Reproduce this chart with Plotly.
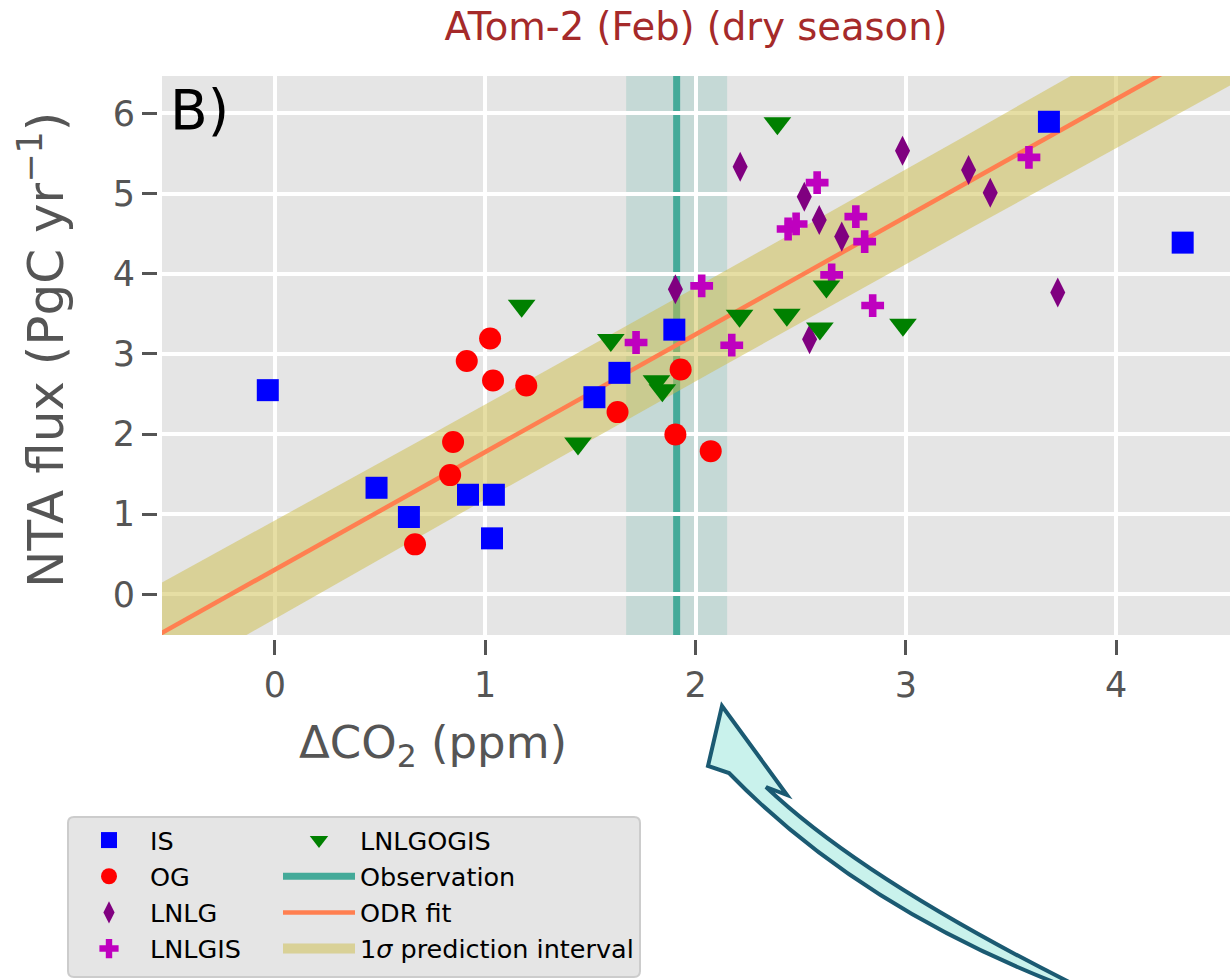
import numpy as np
import plotly.graph_objects as go

# ---------------- data ----------------
IS_X = [-0.034, 0.483, 0.637, 0.918, 1.041, 1.032, 1.519, 1.638, 1.899, 3.680, 4.316]
IS_Y = [2.547, 1.329, 0.964, 1.242, 1.242, 0.698, 2.459, 2.763, 3.302, 5.896, 4.388]

OG_X = [0.666, 0.833, 0.847, 0.912, 1.023, 1.037, 1.195, 1.629, 1.904, 1.929, 2.072]
OG_Y = [0.623, 1.487, 1.899, 2.912, 3.191, 2.667, 2.605, 2.273, 1.994, 2.804, 1.786]

LNLG_X = [1.904, 2.212, 2.517, 2.588, 2.695, 2.542, 2.984, 3.298, 3.401, 3.722]
LNLG_Y = [3.806, 5.335, 4.961, 4.671, 4.463, 3.183, 5.535, 5.294, 5.011, 3.765]

LNLGIS_X = [1.717, 2.029, 2.172, 2.578, 2.440, 2.478, 2.762, 2.804, 2.647, 2.842, 3.585]
LNLGIS_Y = [3.142, 3.848, 3.108, 5.136, 4.558, 4.621, 4.712, 4.400, 3.985, 3.603, 5.452]

LNLGOGIS_X = [1.173, 1.441, 1.597, 1.814, 1.842, 2.209, 2.389, 2.434, 2.591, 2.622, 2.986]
LNLGOGIS_Y = [3.600, 1.882, 3.172, 2.659, 2.547, 3.474, 5.877, 3.487, 3.316, 3.840, 3.362]

OBS_VALUE = 1.91
OBS_SIGMA = 0.24

FIT_SLOPE = 1.4675
FIT_INTERCEPT = 0.308
PRED_SIGMA = 0.58

X_RANGE = [-0.537, 4.541]
Y_RANGE = [-0.508, 6.467]
X_TICKS = [0, 1, 2, 3, 4]
Y_TICKS = [0, 1, 2, 3, 4, 5, 6]

TITLE = "ATom-2 (Feb) (dry season)"
PANEL = "B)"
X_TITLE = "ΔCO<sub>2</sub> (ppm)"
Y_TITLE = "NTA flux (PgC yr<sup>−1</sup>)"

# ---------------- layout geometry ----------------
FIG_W, FIG_H = 1230, 980
M_L, M_R, M_T, M_B = 162, 0, 76, 345
PW = FIG_W - M_L - M_R
PH = FIG_H - M_T - M_B
BOTTOM = FIG_H - M_B


def px(x):
    return (x - M_L) / PW


def py(y):
    return (BOTTOM - y) / PH


def pt(x, y):
    return f"{px(x):.5f},{py(y):.5f}"


FONT = "DejaVu Sans"
GREY = "#555555"
BAND_COLOR = "rgba(205,189,73,0.5)"

fig = go.Figure()

# observation band (through x-axis scale)
fig.add_shape(type="rect", xref="x", yref="paper",
              x0=OBS_VALUE - OBS_SIGMA, x1=OBS_VALUE + OBS_SIGMA, y0=0, y1=1,
              fillcolor="rgba(68,170,153,0.2)", line=dict(width=0), layer="between")

# observation line (shape below traces, so the prediction band is drawn over it)
fig.add_shape(type="line", xref="x", yref="paper",
              x0=OBS_VALUE, x1=OBS_VALUE, y0=0, y1=1,
              line=dict(color="#44AA99", width=7), layer="between",
              showlegend=True, name="Observation", legend="legend2", legendrank=2)

# prediction interval band
all_x = np.array(IS_X + OG_X + LNLG_X + LNLGIS_X + LNLGOGIS_X)
n = all_x.size
xm = all_x.mean()
sxx = ((all_x - xm) ** 2).sum()
xs = np.linspace(X_RANGE[0] - 0.2, X_RANGE[1] + 0.2, 200)
fit = FIT_INTERCEPT + FIT_SLOPE * xs
half = PRED_SIGMA * np.sqrt(1 + 1 / n + (xs - xm) ** 2 / sxx)
fig.add_trace(go.Scatter(x=np.concatenate([xs, xs[::-1]]),
                         y=np.concatenate([fit + half, (fit - half)[::-1]]),
                         fill="toself", fillcolor=BAND_COLOR, line=dict(width=0),
                         mode="lines", showlegend=False, hoverinfo="skip"))
# legend entry for the band
fig.add_trace(go.Scatter(x=[None], y=[None], mode="lines",
                         line=dict(color=BAND_COLOR, width=10),
                         name="1<i>σ</i> prediction interval",
                         legend="legend2", legendrank=4, hoverinfo="skip"))

# ODR fit line
fig.add_trace(go.Scatter(x=xs, y=fit, mode="lines", line=dict(color="#FF7F50", width=4.5),
                         name="ODR fit", legend="legend2", legendrank=3, hoverinfo="skip"))

# scatter groups
groups = [
    ("IS", IS_X, IS_Y, "square", "#0000FF", 22, "legend", 1),
    ("OG", OG_X, OG_Y, "circle", "#FF0000", 22, "legend", 2),
    ("LNLG", LNLG_X, LNLG_Y, "diamond-tall", "#800080", 21.5, "legend", 3),
    ("LNLGIS", LNLGIS_X, LNLGIS_Y, "cross", "#BF00BF", 19, "legend", 4),
    ("LNLGOGIS", LNLGOGIS_X, LNLGOGIS_Y, "triangle-down", "#008000", 24, "legend2", 1),
]
for name, gx, gy, sym, col, size, leg, rank in groups:
    fig.add_trace(go.Scatter(x=gx, y=gy, mode="markers", name=name,
                             marker=dict(symbol=sym, color=col, size=size, line=dict(width=0)),
                             legend=leg, legendrank=rank))

axis_common = dict(
    showgrid=True, gridcolor="white", gridwidth=4, zeroline=False,
    ticks="outside", ticklen=15, tickwidth=3, tickcolor=GREY,
    showline=True, linecolor="white", linewidth=5,
    tickfont=dict(family=FONT, size=35, color=GREY),
)

legend_common = dict(xref="container", yref="container", xanchor="left", yanchor="top",
                     bgcolor="rgba(0,0,0,0)", borderwidth=0, itemwidth=72,
                     font=dict(family=FONT, size=25.5, color="black"), orientation="v")

fig.update_layout(
    width=FIG_W, height=FIG_H,
    margin=dict(l=M_L, r=M_R, t=M_T, b=M_B, autoexpand=False),
    paper_bgcolor="white", plot_bgcolor="#E5E5E5",
    font=dict(family=FONT, color="black"),
    xaxis=dict(range=X_RANGE, tickvals=X_TICKS, **axis_common),
    yaxis=dict(range=Y_RANGE, tickvals=Y_TICKS, **axis_common),
    title=dict(text=TITLE, font=dict(family=FONT, size=38.5, color="#A52A2A"),
               x=0.5, xref="paper", xanchor="center",
               y=1 - 27 / FIG_H, yref="container", yanchor="middle"),
    showlegend=True,
    legend=dict(x=68 / FIG_W, y=1 - 817 / FIG_H, **legend_common),
    legend2=dict(x=278 / FIG_W, y=1 - 817 / FIG_H, **legend_common),
)

# panel label
fig.add_annotation(text=PANEL, xref="paper", yref="paper", x=px(168), y=py(110),
                   xanchor="left", yanchor="middle", showarrow=False,
                   font=dict(family=FONT, size=55, color="black"))

# axis titles
fig.add_annotation(text=X_TITLE, xref="paper", yref="paper", x=px(432.5), y=py(745),
                   xanchor="center", yanchor="middle", showarrow=False,
                   font=dict(family=FONT, size=45, color=GREY))
fig.add_annotation(text=Y_TITLE, xref="paper", yref="paper", x=px(42), y=py(350),
                   xanchor="center", yanchor="middle", showarrow=False, textangle=-90,
                   font=dict(family=FONT, size=50, color=GREY))

# legend frame
r = 6
x0, y0, x1, y1 = 68, 817, 640, 977
frame = (f"M{pt(x0 + r, y0)} L{pt(x1 - r, y0)} Q{pt(x1, y0)} {pt(x1, y0 + r)} "
         f"L{pt(x1, y1 - r)} Q{pt(x1, y1)} {pt(x1 - r, y1)} L{pt(x0 + r, y1)} "
         f"Q{pt(x0, y1)} {pt(x0, y1 - r)} L{pt(x0, y0 + r)} Q{pt(x0, y0)} {pt(x0 + r, y0)} Z")
fig.add_shape(type="path", xref="paper", yref="paper", path=frame,
              fillcolor="#E5E5E5", line=dict(color="#CCCCCC", width=2), layer="below")

# curved arrow
arrow = (f"M{pt(722, 706)} L{pt(787, 795)} L{pt(766, 787)} "
         f"Q{pt(863, 879)} {pt(1075, 985)} L{pt(1061, 985)} "
         f"Q{pt(858, 906)} {pt(729, 773)} L{pt(708, 766)} Z")
fig.add_shape(type="path", xref="paper", yref="paper", path=arrow,
              fillcolor="#C9F2EC", line=dict(color="#1B5A72", width=4), layer="above")

fig.write_html("out.html")
